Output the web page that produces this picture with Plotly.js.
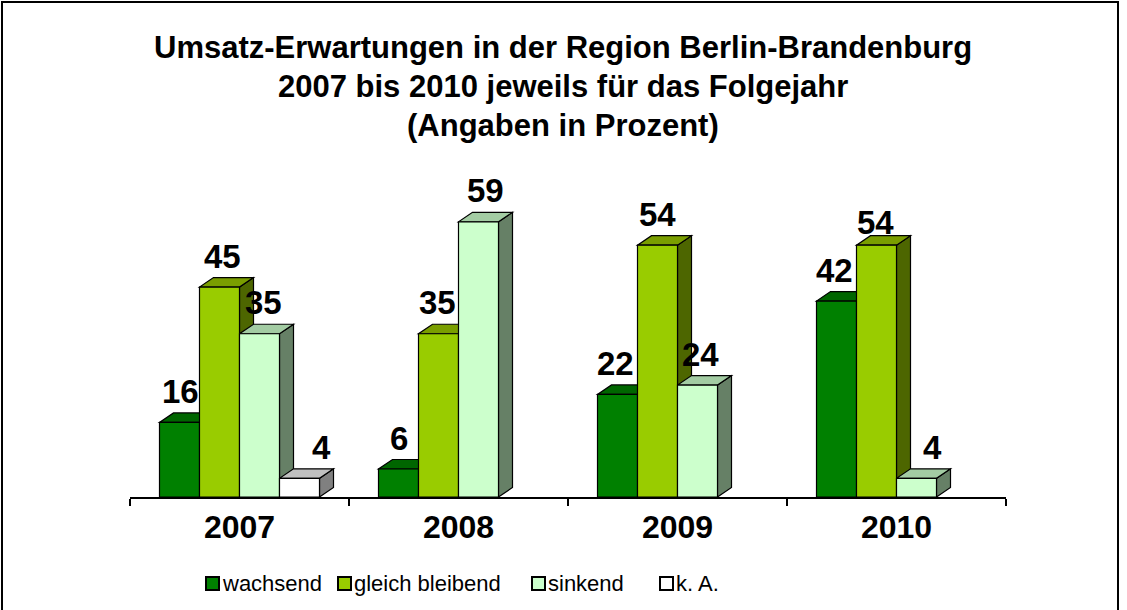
<!DOCTYPE html>
<html><head><meta charset="utf-8">
<script src="https://cdn.plot.ly/plotly-3.0.1.min.js"></script>
<style>
body{margin:0;background:#fff;overflow:hidden}
#wrap{position:relative;width:1127px;height:610px}
#chart{width:1127px;height:610px}
#frame{position:absolute;left:1px;top:1px;width:1114px;height:640px;border:2px solid #000;pointer-events:none}
</style>
</head><body><div id="wrap"><div id="chart"></div><div id="frame"></div></div>
<script>
// ---- data ----
const years = ['2007', '2008', '2009', '2010'];
const seriesNames = ['wachsend', 'gleich bleibend', 'sinkend', 'k. A.'];
const wachsend = [16, 6, 22, 42];
const gleichBleibend = [45, 35, 54, 54];
const sinkend = [35, 59, 24, 4];
const keineAngabe = [4, null, null, null];
const titleLines = ['Umsatz-Erwartungen in der Region Berlin-Brandenburg',
                    '2007 bis 2010 jeweils für das Folgejahr',
                    '(Angaben in Prozent)'];
// ---- styles ----
const frontColors = ['#008000', '#99CC00', '#CCFFCC', '#FFFFFF'];
const topColors   = ['#006600', '#7A9E00', '#A3CCA3', '#C0C0C0'];
const sideColors  = ['#004D00', '#4D6600', '#668066', '#808080'];
// label nudges in pixels [dx, dy] per series / year (style only)
const labelNudge = [
  [[1, 0], [0, 0], [-2, 0], [-2, 0]],
  [[3, 0], [-1, 0], [0, 0], [-1, -8]],
  [[4, 0], [7, 0], [3, 0], [16, 0]],
  [[22, 0], [0, 0], [0, 0], [0, 0]]
];

const seriesVals = [wachsend, gleichBleibend, sinkend, keineAngabe];
const W = 1127, H = 610, L = 130, R = 121, T = 150, B = 113;
const plotW = W - L - R, plotH = H - T - B;
const YMAX = 74.4;
const pxX = plotW / years.length;
const pxY = plotH / YMAX;
const nS = seriesVals.length;
const barW = 40 / pxX;
const dX = 14 / pxX, dY = 9.5 / pxY;
const xIdx = years.map((_, i) => i);
const FONT = 'Arial, "Liberation Sans", sans-serif';

const traces = seriesVals.map((vals, s) => ({
  type: 'bar', x: xIdx, y: vals, name: seriesNames[s],
  marker: {color: frontColors[s], line: {color: '#000', width: 1.2}},
  showlegend: false, hoverinfo: 'skip'
}));

const sides = [], tops = [], annotations = [];
seriesVals.forEach((vals, s) => {
  vals.forEach((v, i) => {
    if (v === null || v === undefined) return;
    const x0 = i + (s - nS / 2) * barW, x1 = x0 + barW;
    sides.push({type: 'path', xref: 'x', yref: 'y', layer: 'below',
      path: `M${x1},0 L${x1 + dX},${dY} L${x1 + dX},${v + dY} L${x1},${v} Z`,
      fillcolor: sideColors[s], line: {color: '#000', width: 1.2}});
    tops.push({type: 'path', xref: 'x', yref: 'y', layer: 'below',
      path: `M${x0},${v} L${x1},${v} L${x1 + dX},${v + dY} L${x0 + dX},${v + dY} Z`,
      fillcolor: topColors[s], line: {color: '#000', width: 1.2}});
    const nudge = labelNudge[s][i];
    annotations.push({xref: 'x', yref: 'y', x: (x0 + x1) / 2, y: v + dY,
      yanchor: 'bottom', xanchor: 'center', showarrow: false,
      xshift: nudge[0], yshift: 1 + nudge[1],
      text: String(v), font: {family: FONT, size: 33, color: '#000', weight: 'bold'}});
  });
});

const px2xp = px => (px - L) / plotW;
const py2yp = py => (H - B - py) / plotH;

// title lines
const titleY = [48, 86, 126];
titleLines.forEach((t, k) => annotations.push({xref: 'paper', yref: 'paper',
  x: px2xp(563), y: py2yp(titleY[k]), xanchor: 'center', yanchor: 'middle',
  showarrow: false, text: t, font: {family: FONT, size: 31, color: '#000', weight: 'bold'}}));

// legend
const legendLeft = [206, 338, 532, 660];
const legendShapes = [];
seriesNames.forEach((n, s) => {
  const xl = legendLeft[s];
  legendShapes.push({type: 'rect', xref: 'paper', yref: 'paper',
    x0: px2xp(xl), x1: px2xp(xl + 13), y0: py2yp(590), y1: py2yp(577),
    fillcolor: frontColors[s], line: {color: '#000', width: 2}});
  annotations.push({xref: 'paper', yref: 'paper', x: px2xp(xl + 14), y: py2yp(583),
    xanchor: 'left', yanchor: 'middle', showarrow: false, text: n,
    font: {family: FONT, size: 22, color: '#000'}});
});

const layout = {
  width: W, height: H,
  margin: {l: L, r: R, t: T, b: B},
  paper_bgcolor: '#fff', plot_bgcolor: '#fff',
  barmode: 'group', bargap: 1 - nS * barW, bargroupgap: 0,
  showlegend: false,
  xaxis: {range: [-0.5, years.length - 0.5], tickmode: 'array', tickvals: xIdx, ticktext: years,
    ticks: '', showgrid: false, zeroline: false, showline: true, linecolor: '#000', linewidth: 2,
    ticklabelstandoff: 1,
    tickfont: {family: FONT, size: 32, color: '#000', weight: 'bold'},
    minor: {tickvals: xIdx.concat([years.length]).map(i => i - 0.5), ticks: 'outside', ticklen: 7,
      tickwidth: 2, tickcolor: '#000', showgrid: false}},
  yaxis: {range: [0, YMAX], visible: false, fixedrange: true},
  shapes: sides.concat(tops, legendShapes),
  annotations: annotations
};

Plotly.newPlot('chart', traces, layout, {staticPlot: true, displayModeBar: false});
</script>
</body></html>
